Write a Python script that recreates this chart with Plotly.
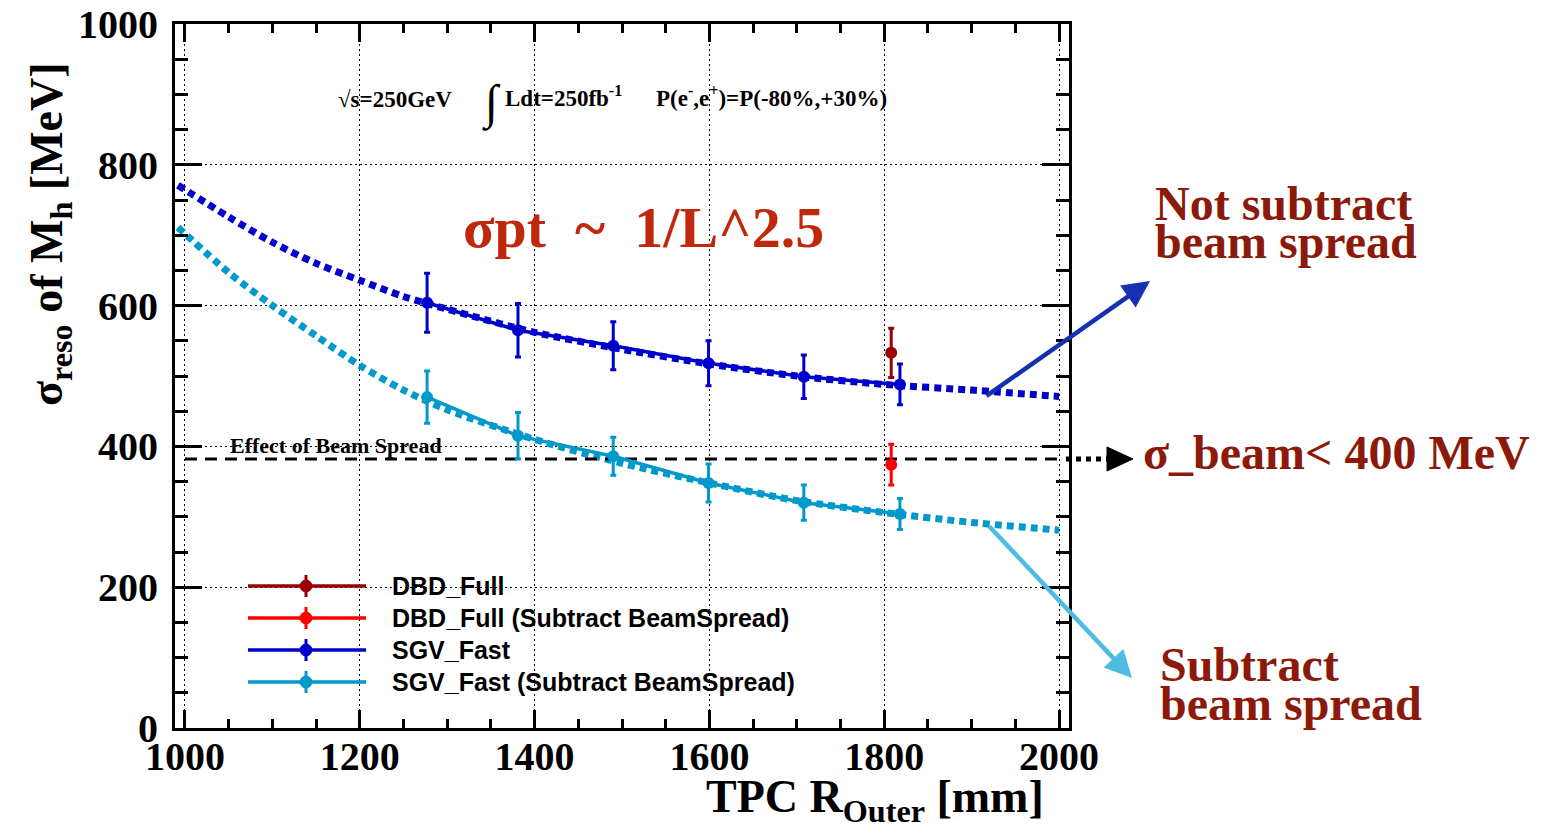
import plotly.graph_objects as go

# ---------------- data ----------------
R_sgv = [1277, 1381, 1490, 1599, 1708, 1818]
sgv_full = [604, 565, 543, 518, 499, 488]
sgv_full_err = [42, 38, 34, 32, 31, 29]
sgv_sub = [470, 415, 386, 348, 320, 304]
sgv_sub_err = [37, 33, 27, 27, 25, 22]

R_dbd = [1808]
dbd_full = [533]
dbd_full_err = [35]
dbd_sub = [374]
dbd_sub_err = [29]

R_fit = [992, 1050, 1100, 1150, 1200, 1250, 1300, 1400, 1500, 1600, 1700, 1800, 1900, 2000]
fit_full = [771, 726, 690, 660, 636, 613, 595, 562, 538, 517, 500, 488, 480, 471]
fit_sub = [711, 647, 600, 557, 515, 480, 452, 410, 376, 348, 323, 306, 292, 281]

R_beam = [1000, 2000]
beam_spread = [382, 382]

x_ticks = [1000, 1200, 1400, 1600, 1800, 2000]
y_ticks = [0, 200, 400, 600, 800, 1000]

legend_names = ["DBD_Full", "DBD_Full (Subtract BeamSpread)", "SGV_Fast", "SGV_Fast (Subtract BeamSpread)"]

C_DBD = "#9B0000"
C_DBD_SUB = "#FF0000"
C_SGV = "#0000CC"
C_SGV_SUB = "#0099CC"
C_TXT = "#8C1A0B"
legend_colors = [C_DBD, C_DBD_SUB, C_SGV, C_SGV_SUB]

# ---------------- geometry helpers (pixel -> paper) ----------------
L, R, T, B = 175, 1069, 24, 728
W, H = 1548, 836
def fx(px):
    return (px - L) / (R - L)
def fy(py):
    return (B - py) / (B - T)

SERIF = "Liberation Serif"
SANS = "Liberation Sans"

fig = go.Figure()

# fit curves (dotted)
fig.add_trace(go.Scatter(x=R_fit, y=fit_full, mode="lines",
                         line=dict(color=C_SGV, width=7, dash="7px,5px", shape="spline", smoothing=0.8),
                         hoverinfo="skip"))
fig.add_trace(go.Scatter(x=R_fit, y=fit_sub, mode="lines",
                         line=dict(color=C_SGV_SUB, width=7, dash="7px,5px", shape="spline", smoothing=0.8),
                         hoverinfo="skip"))

# beam spread dashed line
fig.add_trace(go.Scatter(x=R_beam, y=beam_spread, mode="lines",
                         line=dict(color="black", width=3, dash="12px,8px"), hoverinfo="skip"))

def data_trace(x, y, err, color, name):
    return go.Scatter(x=x, y=y, mode="lines+markers", name=name,
                      line=dict(color=color, width=3.5),
                      marker=dict(color=color, size=12, symbol="circle"),
                      error_y=dict(type="data", array=err, color=color, thickness=3, width=3))

fig.add_trace(data_trace(R_sgv, sgv_full, sgv_full_err, C_SGV, legend_names[2]))
fig.add_trace(data_trace(R_sgv, sgv_sub, sgv_sub_err, C_SGV_SUB, legend_names[3]))
fig.add_trace(data_trace(R_dbd, dbd_full, dbd_full_err, C_DBD, legend_names[0]))
fig.add_trace(data_trace(R_dbd, dbd_sub, dbd_sub_err, C_DBD_SUB, legend_names[1]))

shapes = []
annotations = []

# ---------------- manual legend ----------------
legend_rows = [586, 618, 650, 682]
for name, col, py in zip(legend_names, legend_colors, legend_rows):
    shapes.append(dict(type="line", xref="paper", yref="paper",
                       x0=fx(248), x1=fx(366), y0=fy(py), y1=fy(py),
                       line=dict(color=col, width=3.5)))
    shapes.append(dict(type="line", xref="paper", yref="paper",
                       x0=fx(306), x1=fx(306), y0=fy(py - 11), y1=fy(py + 11),
                       line=dict(color=col, width=3)))
    shapes.append(dict(type="circle", xref="paper", yref="paper",
                       x0=fx(300), x1=fx(312), y0=fy(py + 6), y1=fy(py - 6),
                       fillcolor=col, line=dict(color=col, width=1)))
    annotations.append(dict(xref="paper", yref="paper", x=fx(390), y=fy(py),
                            xanchor="left", yanchor="middle", showarrow=False,
                            text=name, font=dict(family=SANS, size=25, color="black", weight="bold")))

# ---------------- texts ----------------
def txt(text, px, py, size, color="black", family=SERIF, xanchor="left", yanchor="middle", angle=0):
    annotations.append(dict(xref="paper", yref="paper", x=fx(px), y=fy(py),
                            xanchor=xanchor, yanchor=yanchor, showarrow=False, textangle=angle,
                            text=text, font=dict(family=family, size=size, color=color, weight="bold")))

txt("√s=250GeV", 336, 100, 23)
txt("∫", 480, 103, 48)
txt("Ldt=250fb<sup>-1</sup>", 503, 97, 23)
txt("P(e<sup>-</sup>,e<sup>+</sup>)=P(-80%,+30%)", 654, 97, 23)

txt("Effect of Beam Spread", 228, 446, 22)

txt("σpt\u00a0\u00a0~\u00a0\u00a01/L^2.5", 461, 227, 58, color="#C0280C")

txt("Not subtract", 1153, 203, 48, color=C_TXT)
txt("beam spread", 1153, 241, 48, color=C_TXT)
txt("σ_beam< 400 MeV", 1141, 452, 48, color=C_TXT)
txt("Subtract", 1158, 664, 48, color=C_TXT)
txt("beam spread", 1158, 703, 48, color=C_TXT)

# axis titles
txt("σ<sub>reso</sub> of M<sub>h</sub> [MeV]", 50, 234, 46, angle=-90, xanchor="center")
txt("TPC R<sub>Outer</sub> [mm]", 1046, 800, 46, xanchor="right")

# ---------------- arrows ----------------
annotations.append(dict(xref="paper", yref="paper", x=fx(1150), y=fy(281),
                        ax=985 - 1150, ay=397 - 281, axref="pixel", ayref="pixel",
                        showarrow=True, arrowhead=2, arrowsize=1.2, arrowwidth=4.5,
                        arrowcolor="#1530B0", text=""))
annotations.append(dict(xref="paper", yref="paper", x=fx(1132), y=fy(678),
                        ax=988 - 1132, ay=525 - 678, axref="pixel", ayref="pixel",
                        showarrow=True, arrowhead=2, arrowsize=1.2, arrowwidth=4.5,
                        arrowcolor="#4DBCE0", text=""))

# black dotted arrow outside the frame
shapes.append(dict(type="line", xref="paper", yref="paper",
                   x0=fx(1066), x1=fx(1110), y0=fy(459), y1=fy(459),
                   line=dict(color="black", width=5, dash="5px,5px")))
shapes.append(dict(type="path", xref="paper", yref="paper",
                   path="M {:.5f} {:.5f} L {:.5f} {:.5f} L {:.5f} {:.5f} Z".format(
                       fx(1107), fy(447), fx(1133), fy(459), fx(1107), fy(471)),
                   fillcolor="black", line=dict(color="black", width=1)))

fig.update_layout(
    width=W, height=H,
    margin=dict(l=L, r=W - R, t=T, b=H - B, autoexpand=False),
    paper_bgcolor="white", plot_bgcolor="white",
    showlegend=False,
    shapes=shapes, annotations=annotations,
)

axis_common = dict(
    ticks="inside", tickcolor="black", tickwidth=3, mirror="allticks",
    showline=True, linewidth=3, linecolor="black",
    showgrid=True, gridcolor="black", griddash="2px,3px", gridwidth=1,
    zeroline=False, automargin=False,
    tickfont=dict(family=SERIF, size=40, color="black", weight="bold"),
)

fig.update_xaxes(range=[988.6, 2011.4], tickvals=x_ticks, ticktext=[str(v) for v in x_ticks],
                 ticklen=18, ticklabelstandoff=-9,
                 minor=dict(dtick=50, tick0=1000, ticks="inside", ticklen=9, tickwidth=3,
                            tickcolor="black", showgrid=False),
                 **axis_common)
fig.update_yaxes(range=[0, 1000], tickvals=y_ticks, ticktext=[str(v) for v in y_ticks],
                 ticklen=27, ticklabelstandoff=6,
                 minor=dict(dtick=50, tick0=0, ticks="inside", ticklen=13, tickwidth=3,
                            tickcolor="black", showgrid=False),
                 **axis_common)

fig.write_html("out.html")
